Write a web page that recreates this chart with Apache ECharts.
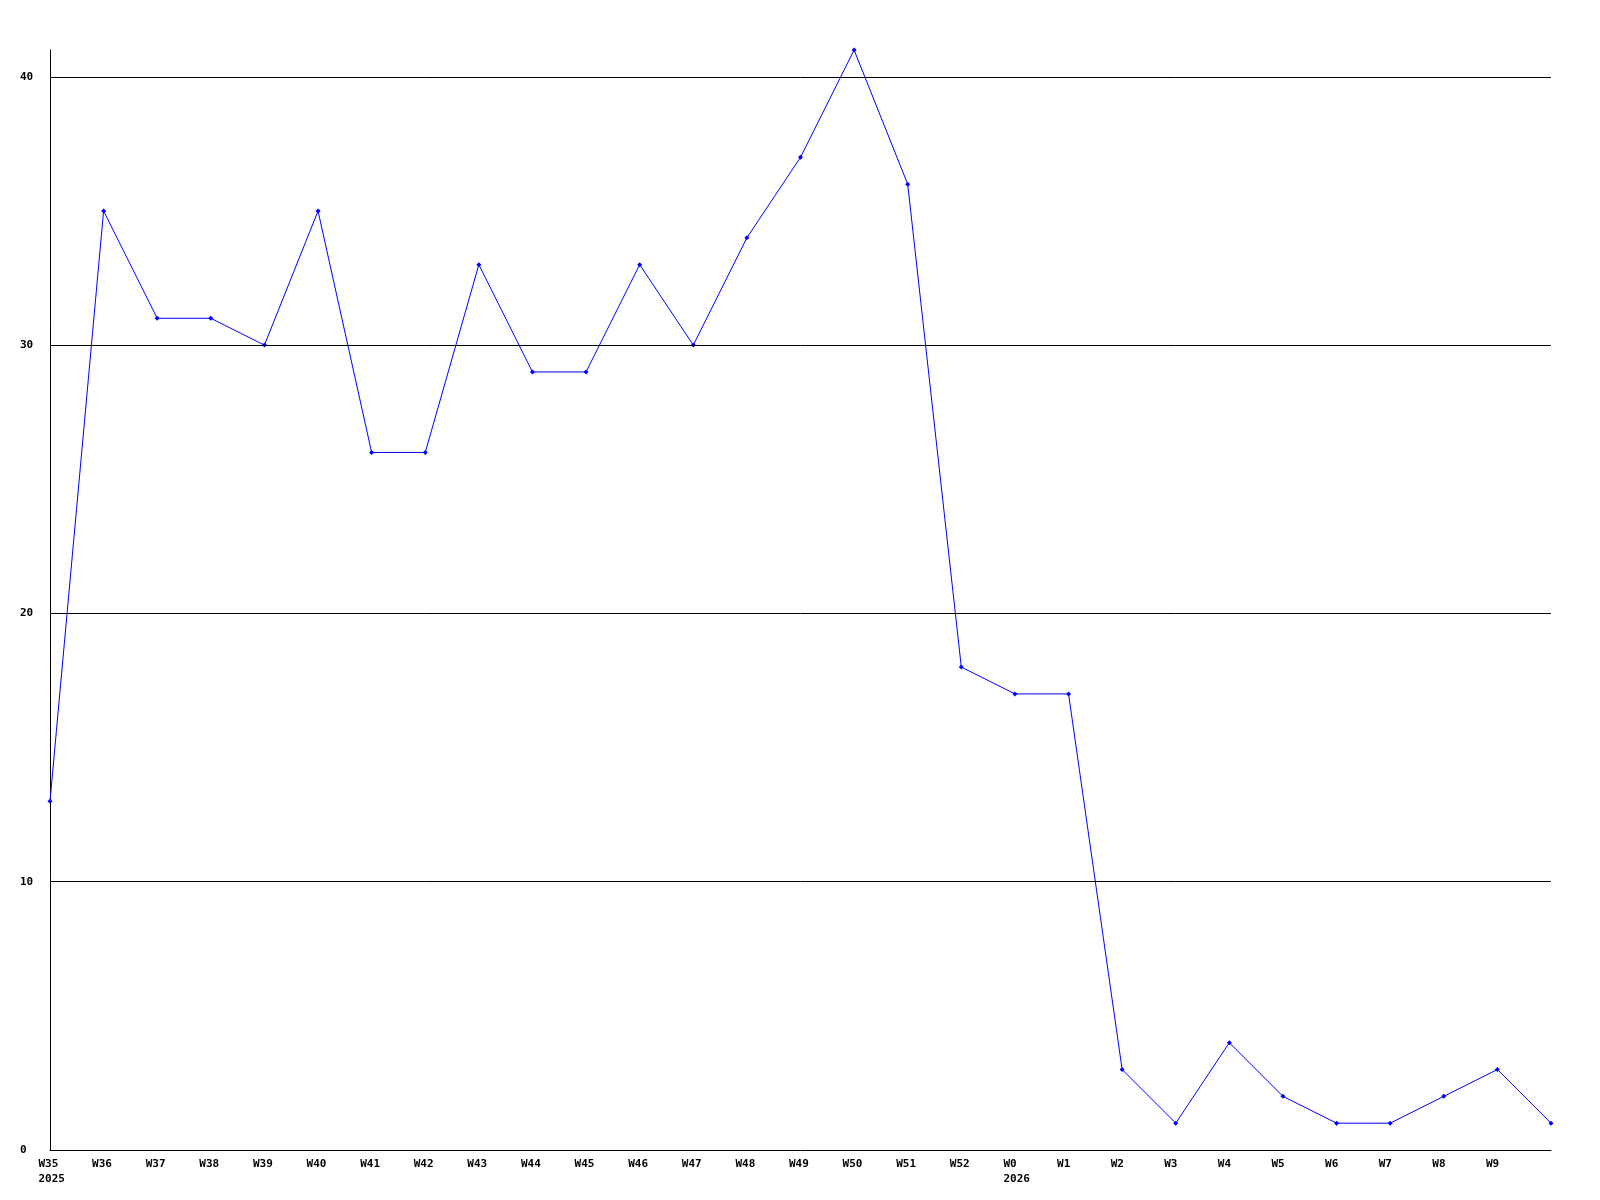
<!DOCTYPE html>
<html>
<head>
<meta charset="utf-8">
<script src="https://cdn.jsdelivr.net/npm/echarts@6/dist/echarts.min.js"></script>
<style>html,body{margin:0;padding:0;background:#fff;}#c{width:1600px;height:1200px;}</style>
</head>
<body>
<div id="c"></div>
<script>
const categories = ["W35\n2025","W36","W37","W38","W39","W40","W41","W42","W43","W44","W45","W46","W47","W48","W49","W50","W51","W52","W0\n2026","W1","W2","W3","W4","W5","W6","W7","W8","W9",""];
const values = [13,35,31,31,30,35,26,26,33,29,29,33,30,34,37,41,36,18,17,17,3,1,4,2,1,1,2,3,1];
const gridValues = [10,20,30,40];
const yMax = 41;

const chart = echarts.init(document.getElementById('c'), null, {renderer:'canvas'});
const font = {fontFamily:'DejaVu Sans Mono', fontWeight:'bold', fontSize:11, color:'#000'};
chart.setOption({
  animation:false,
  backgroundColor:'#fff',
  grid:{left:50,right:49,top:50,bottom:50,containLabel:false},
  xAxis:{
    type:'category', data:categories, boundaryGap:false,
    axisLine:{lineStyle:{color:'#000',width:1}},
    axisTick:{show:false},
    axisLabel:Object.assign({
      interval:0, margin:7, verticalAlign:'top', align:'center',
      formatter: v => v.split('\n').map(s => '{a|' + s + '}').join('\n'),
      rich:{a:Object.assign({width:23, align:'left', lineHeight:15}, font)}
    }, font),
    splitLine:{show:false}
  },
  yAxis:{
    type:'value', min:0, max:yMax, interval:10,
    axisLine:{show:true,lineStyle:{color:'#000',width:1}},
    axisTick:{show:false},
    axisLabel:Object.assign({showMaxLabel:false, align:'left', margin:30}, font),
    splitLine:{show:false}
  },
  series:[{
    type:'line', data:values,
    symbol:'diamond', symbolSize:5, showSymbol:true,
    lineStyle:{color:'#0000ff',width:1},
    itemStyle:{color:'#0000ff'},
    markLine:{
      silent:true, symbol:['none','none'], label:{show:false},
      lineStyle:{color:'#000',width:1,type:'solid'},
      data:gridValues.map(v=>({yAxis:v}))
    }
  }]
});
</script>
</body>
</html>
